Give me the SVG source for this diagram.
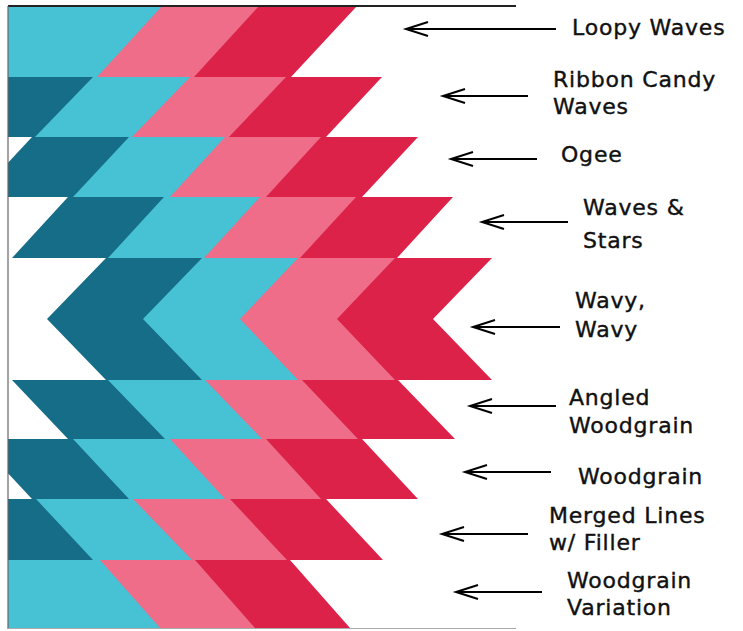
<svg xmlns="http://www.w3.org/2000/svg" width="743" height="631" viewBox="0 0 743 631">
<defs>
<style>
.dk{fill:#156d87}.cy{fill:#47c2d4}.pk{fill:#ef6d88}.rd{fill:#dc2249}.wh{fill:#ffffff}
.lbl{font-family:"DejaVu Sans","Liberation Sans",sans-serif;font-size:22px;letter-spacing:0.8px;fill:#111;stroke:#111;stroke-width:0.4px}
.arr{stroke:#000;stroke-width:2;fill:none;marker-end:url(#head)}
</style>
<marker id="head" markerUnits="userSpaceOnUse" markerWidth="30" markerHeight="20" refX="0" refY="0" viewBox="-26 -10 30 20" orient="auto" overflow="visible">
<path d="M-22,-7 L0,0 L-22,7" stroke="#000" stroke-width="2" fill="none"/>
</marker>
<clipPath id="q"><rect x="8" y="6" width="520" height="622"/></clipPath>
</defs>
<rect width="743" height="631" fill="#fff"/>
<g id="quilt" clip-path="url(#q)">
<!-- row 1 -->
<polygon class="rd" points="-100,6 357,6 291,77 -100,77"/>
<polygon class="pk" points="-100,6 259,6 194,77 -100,77"/>
<polygon class="cy" points="-100,6 162,6 97,77 -100,77"/>
<!-- row 2 -->
<polygon class="rd" points="-100,77 382,77 326,137 -100,137"/>
<polygon class="pk" points="-100,77 286,77 229,137 -100,137"/>
<polygon class="cy" points="-100,77 190,77 132,137 -100,137"/>
<polygon class="dk" points="-100,77 93,77 35,137 -100,137"/>
<!-- row 3 -->
<polygon class="rd" points="-100,137 418,137 362,197 -100,197"/>
<polygon class="pk" points="-100,137 321,137 266,197 -100,197"/>
<polygon class="cy" points="-100,137 225,137 170,197 -100,197"/>
<polygon class="dk" points="-100,137 129,137 73,197 -100,197"/>
<polygon class="wh" points="-100,137 32,137 -24,197 -100,197"/>
<!-- row 4 -->
<polygon class="rd" points="-100,197 453,197 397,258 -100,258"/>
<polygon class="pk" points="-100,197 356,197 300,258 -100,258"/>
<polygon class="cy" points="-100,197 260,197 204,258 -100,258"/>
<polygon class="dk" points="-100,197 164,197 108,258 -100,258"/>
<polygon class="wh" points="-100,197 68,197 12,258 -100,258"/>
<!-- row 5 chevron -->
<polygon class="rd" points="-100,258 492,258 433,319 492,380 -100,380"/>
<polygon class="pk" points="-100,258 395,258 337,319 395,380 -100,380"/>
<polygon class="cy" points="-100,258 298,258 240,319 298,380 -100,380"/>
<polygon class="dk" points="-100,258 202,258 143,319 202,380 -100,380"/>
<polygon class="wh" points="-100,258 106,258 47,319 106,380 -100,380"/>
<!-- row 6 -->
<polygon class="rd" points="-100,380 398,380 455,439 -100,439"/>
<polygon class="pk" points="-100,380 302,380 358,439 -100,439"/>
<polygon class="cy" points="-100,380 205,380 262,439 -100,439"/>
<polygon class="dk" points="-100,380 108,380 165,439 -100,439"/>
<polygon class="wh" points="-100,380 12,380 68,439 -100,439"/>
<!-- row 7 -->
<polygon class="rd" points="-100,439 362,439 418,499 -100,499"/>
<polygon class="pk" points="-100,439 266,439 321,499 -100,499"/>
<polygon class="cy" points="-100,439 170,439 225,499 -100,499"/>
<polygon class="dk" points="-100,439 73,439 129,499 -100,499"/>
<polygon class="wh" points="-100,439 -24,439 32,499 -100,499"/>
<!-- row 8 -->
<polygon class="rd" points="-100,499 326,499 383,560 -100,560"/>
<polygon class="pk" points="-100,499 230,499 287,560 -100,560"/>
<polygon class="cy" points="-100,499 133,499 192,560 -100,560"/>
<polygon class="dk" points="-100,499 36,499 93,560 -100,560"/>
<!-- row 9 -->
<polygon class="rd" points="-100,560 290,560 350,628 -100,628"/>
<polygon class="pk" points="-100,560 195,560 255,628 -100,628"/>
<polygon class="cy" points="-100,560 100,560 160,628 -100,628"/>
</g>
<g id="frame">
<line x1="8" y1="6" x2="516" y2="6" stroke="#222" stroke-width="2"/>
<line x1="8" y1="6" x2="8" y2="629" stroke="#666" stroke-width="1.2"/>
<line x1="8" y1="628.5" x2="516" y2="628.5" stroke="#aaa" stroke-width="1.2"/>
</g>
<g id="connectors">
<line class="arr" x1="556" y1="29" x2="406" y2="29"/>
<line class="arr" x1="528" y1="96" x2="443" y2="96"/>
<line class="arr" x1="537" y1="159" x2="451" y2="159"/>
<line class="arr" x1="568" y1="222" x2="482" y2="222"/>
<line class="arr" x1="560" y1="327" x2="473" y2="327"/>
<line class="arr" x1="556" y1="406" x2="470" y2="406"/>
<line class="arr" x1="551" y1="472" x2="465" y2="472"/>
<line class="arr" x1="528" y1="534" x2="442" y2="534"/>
<line class="arr" x1="542" y1="592" x2="456" y2="592"/>
</g>
<g id="label-loopy"><text class="lbl" x="572" y="35">Loopy Waves</text></g>
<g id="label-ribbon"><text class="lbl" x="553" y="87">Ribbon Candy</text><text class="lbl" x="553" y="114">Waves</text></g>
<g id="label-ogee"><text class="lbl" x="561" y="162">Ogee</text></g>
<g id="label-waves-stars"><text class="lbl" x="583" y="215">Waves &amp;</text><text class="lbl" x="583" y="248">Stars</text></g>
<g id="label-wavy"><text class="lbl" x="575" y="308">Wavy,</text><text class="lbl" x="575" y="337">Wavy</text></g>
<g id="label-angled"><text class="lbl" x="569" y="405">Angled</text><text class="lbl" x="569" y="433">Woodgrain</text></g>
<g id="label-woodgrain"><text class="lbl" x="578" y="484">Woodgrain</text></g>
<g id="label-merged"><text class="lbl" x="549" y="523">Merged Lines</text><text class="lbl" x="549" y="550">w/ Filler</text></g>
<g id="label-variation"><text class="lbl" x="567" y="588">Woodgrain</text><text class="lbl" x="567" y="615">Variation</text></g>
</svg>
